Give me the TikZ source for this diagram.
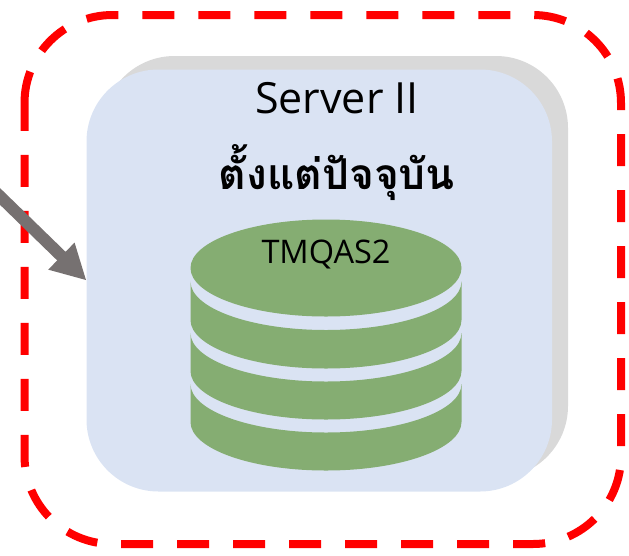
\documentclass[tikz,border=0pt]{standalone}
\usepackage{fontspec}
\usetikzlibrary{arrows.meta}
\setmainfont{Open Sans}
\newfontfamily\thaifont[Script=Thai]{Loma}
\definecolor{panelblue}{HTML}{DAE3F3}
\definecolor{panelgray}{HTML}{D9D9D9}
\definecolor{dbgreen}{HTML}{85AD72}
\definecolor{arrowgray}{HTML}{767171}
\tikzset{
  panel/.style={rectangle,rounded corners=72pt,minimum width=465.5pt,minimum height=422pt,inner sep=0pt,outer sep=0pt},
  band/.style={fill=dbgreen,draw=none},
  title/.style={inner sep=0pt,outer sep=0pt,text=black,anchor=center},
}
\newcommand{\dbband}[2]{% top-arc centre y, side bottom y
  \fill[band] (190.5,#1) arc[x radius=135.5,y radius=48.5,start angle=180,end angle=0]
    -- (461.5,#2) arc[x radius=135.5,y radius=48.5,start angle=0,end angle=180] -- cycle;}
\begin{document}
\begin{tikzpicture}[x=1pt,y=-1pt]
\useasboundingbox (0,0) rectangle (629,555);
% shadow and panel
\node[panel,fill=panelgray] (shadow) at (335.25,267) {};
\node[panel,fill=panelblue] (server) at (319.25,280.5) {};
% database
\fill[band] (326,268) ellipse[x radius=135.5,y radius=48.5];
\dbband{281.5}{320}
\dbband{333}{371}
\dbband{384}{422}
% texts
\node[title,font=\fontsize{43}{43}\selectfont] (name) at (337,98) {Server II};
\node[title,font=\fontsize{42.5}{43}\selectfont\thaifont\bfseries] (since) at (337,173) {ตั้งแต่ปัจจุบัน};
\node[title,font=\fontsize{32.5}{33}\selectfont] (db) at (326,254) {TMQAS2};
% dashed frame
\draw[red,line width=8pt,dash pattern=on 32pt off 24pt,line cap=butt]
  (24.5,103) arc[radius=88,start angle=180,end angle=270]
  -- (533,15) arc[radius=88,start angle=-90,end angle=0]
  -- (621,456) arc[radius=88,start angle=0,end angle=90]
  -- (112.5,544) arc[radius=88,start angle=90,end angle=180] -- cycle;
% incoming arrow
\coordinate (from) at (-20,177);
\draw[arrowgray,line width=12pt,-{Triangle[length=35pt,width=35pt]}] (from) -- (server.west);
\end{tikzpicture}
\end{document}
